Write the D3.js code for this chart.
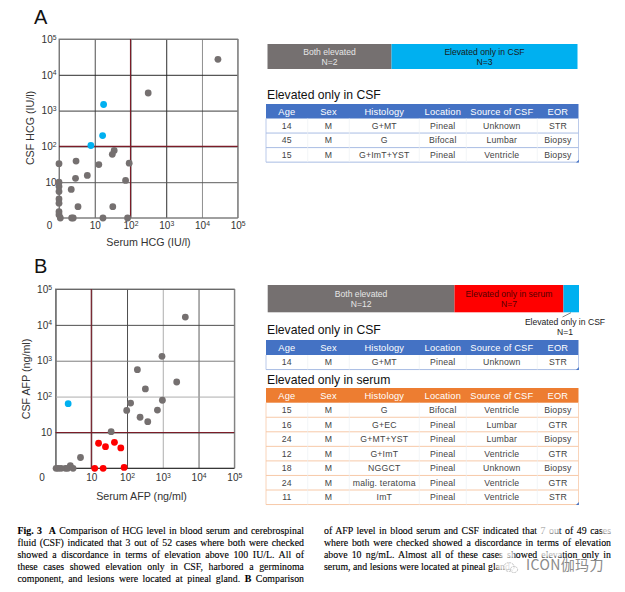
<!DOCTYPE html>
<html><head><meta charset="utf-8">
<script src="https://cdn.jsdelivr.net/npm/d3@7/dist/d3.min.js"></script>
<style>
html,body{margin:0;padding:0;background:#fff;}
#wrap{position:relative;width:625px;height:592px;overflow:hidden;}
svg{position:absolute;left:0;top:0;}
.cap{position:absolute;font-family:"Liberation Serif",serif;font-size:9.85px;line-height:12px;height:12px;color:#000;-webkit-text-stroke:0.12px #000;text-align:justify;text-align-last:justify;}
.cap.last{text-align-last:left;white-space:nowrap;}
</style></head><body><div id="wrap"><svg id="s" width="625" height="592"></svg></div>
<script>
// ---- Panel A: HCG ----
const hcgGreyX=[28000,313,35,31,92,13,1,3,2.9,6.2,73,1,1,1,2.2,1,1,3.4,32,1,1,1.09,2.26,2.5,17,83];
const hcgGreyY=[27000,3100,77,60,34,31,33,39,12.8,15.5,11.2,10,7.6,5.5,6.3,3.4,2.6,2.07,2.07,1.5,1.24,1,1,1,1,1];
const hcgBlueX=[17.7,16.6,7.8];
const hcgBlueY=[1480,200,106];
// ---- Panel B: AFP ----
const afpGreyX=[4270,950,195,2450,326,126,975,98,708,232,380,36,5,2.6,1.04,1.2,1.43,1.9,2.2,3.1];
const afpGreyY=[16500,1330,563,255,163,66,79,41,42,26.5,20,10.5,2,1.19,1,1,1,1,1,1];
const afpBlueX=[2.26];
const afpBlueY=[63.6];
const afpRedX=[16,25,44.5,67,12.5,21.5,83];
const afpRedY=[5,4,5.3,3.7,1,1,1.06];
const tickVals=[1,10,100,1000,10000,100000];
const tickLabels=["0","10","10|2","10|3","10|4","10|5"];
// ---- Stacked bars ----
const barALabels=["Both elevated","Elevated only in CSF"];
const barACounts=[2,3];
const barBLabels=["Both elevated","Elevated only in serum","Elevated only in CSF"];
const barBCounts=[12,7,1];
// ---- Tables ----
const tableHeader=["Age","Sex","Histology","Location","Source of CSF","EOR"];
const rowsA=[["14","M","G+MT","Pineal","Unknown","STR"],["45","M","G","Bifocal","Lumbar","Biopsy"],["15","M","G+ImT+YST","Pineal","Ventricle","Biopsy"]];
const rowsBCsf=[["14","M","G+MT","Pineal","Unknown","STR"]];
const rowsBSerum=[["15","M","G","Bifocal","Ventricle","Biopsy"],["16","M","G+EC","Pineal","Lumbar","GTR"],["24","M","G+MT+YST","Pineal","Lumbar","Biopsy"],["12","M","G+ImT","Pineal","Ventricle","GTR"],["18","M","NGGCT","Pineal","Unknown","Biopsy"],["24","M","malig. teratoma","Pineal","Ventricle","GTR"],["11","M","ImT","Pineal","Ventricle","STR"]];
const capLeft=["<b>Fig. 3</b>&nbsp;&nbsp;<b>A</b> Comparison of HCG level in blood serum and cerebrospinal","fluid (CSF) indicated that 3 out of 52 cases where both were checked","showed a discordance in terms of elevation above 100 IU/L. All of","these cases showed elevation only in CSF, harbored a germinoma","component, and lesions were located at pineal gland. <b>B</b> Comparison"];
const capRight=["of AFP level in blood serum and CSF indicated that 7 out of 49 cases","where both were checked showed a discordance in terms of elevation","above 10 ng/mL. Almost all of these cases showed elevation only in","serum, and lesions were located at pineal gland."];

const SANS='"Liberation Sans",Arial,sans-serif';
const GREY="#757070",BLUE="#00b0f0",RED="#ff0000",DKRED="#7b1c28";
const svg=d3.select("#s");

function panel(c){
  const g=svg.append("g");
  const x=d3.scaleLog().domain([1,1e5]).range([c.x0,c.x0+c.w]);
  const y=d3.scaleLog().domain([1,1e5]).range([c.y0+c.h,c.y0]);
  const fmt=(d)=>tickLabels[tickVals.indexOf(d)];
  const style=(a,cols)=>{
    a.select(".domain").remove();
    a.selectAll(".tick line").attr("stroke",d=>cols[d]||"#3c3c3c").attr("stroke-width",0.95);
    a.selectAll(".tick text").attr("fill","#333").attr("font-family",SANS).attr("font-size",10)
     .each(function(){
       const t=d3.select(this),p=t.text().split("|");
       t.text(p[0]);
       if(p[1]) t.append("tspan").attr("font-size",6.8).attr("dy",-3.2).text(p[1]);
     });
  };
  const ax=g.append("g").attr("transform",`translate(0,${c.y0+c.h})`)
    .call(d3.axisBottom(x).tickValues(tickVals).tickFormat(fmt).tickSize(-c.h).tickPadding(c.xPad));
  style(ax,c.xCols);
  ax.selectAll(".tick").filter(d=>d===1).select("text").attr("dx",c.zeroDx);
  const ay=g.append("g").attr("transform",`translate(${c.x0},0)`)
    .call(d3.axisLeft(y).tickValues(tickVals.slice(1)).tickFormat(fmt).tickSize(-c.w).tickPadding(c.yPad));
  style(ay,c.yCols);
  g.append("rect").attr("x",c.x0).attr("y",c.y0).attr("width",c.w).attr("height",c.h)
    .attr("fill","none").attr("stroke","#777").attr("stroke-width",0.9);
  g.append("line").attr("x1",c.x0).attr("x2",c.x0+c.w).attr("y1",c.y0+c.h).attr("y2",c.y0+c.h).attr("stroke",c.baseCol).attr("stroke-width",0.9);
  g.append("line").attr("x1",x(c.thr)).attr("x2",x(c.thr)).attr("y1",c.y0).attr("y2",c.y0+c.h).attr("stroke",DKRED).attr("stroke-width",1.1);
  g.append("line").attr("x1",c.x0).attr("x2",c.x0+c.w).attr("y1",y(c.thr)).attr("y2",y(c.thr)).attr("stroke",DKRED).attr("stroke-width",1.1);
  c.series.forEach(s=>{
    g.append("g").selectAll("circle").data(s.xs).join("circle")
      .attr("cx",d=>x(d)).attr("cy",(d,i)=>y(s.ys[i])).attr("r",3.4).attr("fill",s.col);
  });
  g.append("text").attr("x",c.xtX).attr("y",c.xtY).attr("text-anchor","middle").attr("font-family",SANS).attr("font-size",10.7).attr("fill","#333").text(c.xt);
  g.append("text").attr("transform",`translate(${c.ytX},${c.ytY}) rotate(-90)`).attr("text-anchor","middle").attr("font-family",SANS).attr("font-size",10.7).attr("fill","#333").text(c.yt);
  g.append("text").attr("x",c.lx).attr("y",c.ly).attr("font-family",SANS).attr("font-size",20).attr("fill","#111").text(c.letter);
}
panel({x0:59,y0:39,w:178.7,h:179,thr:100,xPad:4,yPad:2.5,zeroDx:-10,baseCol:"#777",xCols:{1:"#777",10:"#444",1000:"#222",10000:"#888",100000:"#777"},yCols:{10:"#555",1000:"#333",10000:"#222",100000:"#777"},xt:"Serum HCG (IU/l)",yt:"CSF HCG (IU/l)",xtX:148.5,xtY:246,ytX:33.5,ytY:128,lx:34,ly:24,letter:"A",
  series:[{xs:hcgGreyX,ys:hcgGreyY,col:GREY},{xs:hcgBlueX,ys:hcgBlueY,col:BLUE}]});
panel({x0:55.5,y0:289,w:178.8,h:179.3,thr:10,xPad:6,yPad:3.5,zeroDx:-14,baseCol:"#111",xCols:{1:"#111",100:"#444",1000:"#aaa",10000:"#555",100000:"#777"},yCols:{100:"#aaa",1000:"#777",10000:"#444",100000:"#555"},xt:"Serum AFP (ng/ml)",yt:"CSF AFP (ng/ml)",xtX:141.5,xtY:499.5,ytX:29.5,ytY:379,lx:34,ly:273,letter:"B",
  series:[{xs:afpGreyX,ys:afpGreyY,col:GREY},{xs:afpBlueX,ys:afpBlueY,col:BLUE},{xs:afpRedX,ys:afpRedY,col:RED}]});

function stack(labels,counts,cols,txt,x0,x1,y0,y1,showLabel){
  const total=d3.sum(counts);
  const s=d3.scaleLinear().domain([0,total]).range([x0,x1]);
  let cum=0;
  labels.forEach((l,i)=>{
    const a=s(cum),b=s(cum+counts[i]);cum+=counts[i];
    svg.append("rect").attr("x",a).attr("y",y0).attr("width",b-a).attr("height",y1-y0).attr("fill",cols[i]);
    if(showLabel[i]){
      const t=svg.append("text").attr("text-anchor","middle").attr("font-family",SANS).attr("font-size",8.6).attr("fill",txt[i]);
      t.append("tspan").attr("x",(a+b)/2).attr("y",(y0+y1)/2-2).text(l);
      t.append("tspan").attr("x",(a+b)/2).attr("y",(y0+y1)/2+8.3).text("N="+counts[i]);
    }
  });
}
stack(barALabels,barACounts,[GREY,BLUE],["#e6e6e6","#1a1a1a"],267.5,577.5,44,69,[1,1]);
stack(barBLabels,barBCounts,[GREY,RED,BLUE],["#e6e6e6","#500","#222"],267.7,579,285,312.3,[1,1,0]);
svg.append("line").attr("x1",571).attr("y1",312.7).attr("x2",562.5).attr("y2",317).attr("stroke","#333").attr("stroke-width",0.6);
const cl=svg.append("text").attr("text-anchor","middle").attr("font-family",SANS).attr("font-size",8.6).attr("fill","#222");
cl.append("tspan").attr("x",565).attr("y",325).text(barBLabels[2]);
cl.append("tspan").attr("x",565).attr("y",335).text("N="+barBCounts[2]);

const colEdges=[266,307.7,349.3,419.3,466.3,537.3,578.5];
function table(rows,headCol,lineCol,markCol,top,headH){
  const rowH=14.55;
  const rt=top+headH;
  const bottom=rt+rows.length*rowH;
  const x1=colEdges[6];
  svg.append("rect").attr("x",266).attr("y",top).attr("width",x1-266).attr("height",headH).attr("fill",headCol);
  rows.forEach((r,i)=>{
    svg.append("line").attr("x1",266).attr("x2",x1).attr("y1",rt+(i+1)*rowH).attr("y2",rt+(i+1)*rowH).attr("stroke",lineCol).attr("stroke-width",1);
  });
  for(let k=1;k<6;k++) svg.append("line").attr("x1",colEdges[k]).attr("x2",colEdges[k]).attr("y1",rt).attr("y2",bottom).attr("stroke","#eef0f4").attr("stroke-width",0.7);
  [266,x1].forEach(v=>svg.append("line").attr("x1",v).attr("x2",v).attr("y1",rt).attr("y2",bottom).attr("stroke",lineCol).attr("stroke-width",0.8));
  svg.append("path").attr("d",`M${x1+0.4} ${bottom-2.5}V${bottom+0.4}H${x1-2.5}Z`).attr("fill",markCol);
  tableHeader.forEach((h,k)=>svg.append("text").attr("x",(colEdges[k]+colEdges[k+1])/2).attr("y",top+headH/2+3.3)
    .attr("text-anchor","middle").attr("font-family",SANS).attr("font-size",9.3).attr("letter-spacing",0.15).attr("fill","#fff").text(h));
  rows.forEach((r,i)=>r.forEach((v,k)=>svg.append("text").attr("x",(colEdges[k]+colEdges[k+1])/2).attr("y",rt+i*rowH+rowH/2+3)
    .attr("text-anchor","middle").attr("font-family",SANS).attr("font-size",8.7).attr("letter-spacing",0.2).attr("fill","#444").text(v)));
}
function heading(t,y){svg.append("text").attr("x",267).attr("y",y).attr("font-family",SANS).attr("font-size",12.2).attr("fill","#111").text(t);}
heading("Elevated only in CSF",99);
table(rowsA,"#4472c4","#a9bde4","#4472c4",104,14.5);
heading("Elevated only in CSF",333.5);
table(rowsBCsf,"#4472c4","#a9bde4","#4472c4",340,15);
heading("Elevated only in serum",383.5);
table(rowsBSerum,"#ed7d31","#f7c9a8","#4472c4",388,14.7);

const wrap=d3.select("#wrap");
function caption(lines,x,w){
  lines.forEach((l,i)=>{
    const isLast=i===lines.length-1&&lines.length===4;
    const d=wrap.append("div").attr("class","cap"+(isLast?" last":"")).style("left",x+"px").style("top",(524.5+i*12)+"px").html(l);
    if(!isLast) d.style("width",w+"px");
  });
}
caption(capLeft,17.5,286.5);
caption(capRight,324,287);
// watermark over the caption
const wm=wrap.append("svg").attr("width",625).attr("height",592);
wm.append("defs").append("filter").attr("id","soft").append("feGaussianBlur").attr("stdDeviation",1.2);
[[537,526,22,8],[602,526,12,8],[500,551,14,7],[540,551,22,6],[497,562,22,8]].forEach(r=>
  wm.append("rect").attr("x",r[0]).attr("y",r[1]).attr("width",r[2]).attr("height",r[3]).attr("fill","#fff").attr("opacity",0.75).attr("filter","url(#soft)"));
[[509,567,5.2,4.4],[514,569.5,3.6,3.1]].forEach(e=>
  wm.append("ellipse").attr("cx",e[0]).attr("cy",e[1]).attr("rx",e[2]).attr("ry",e[3]).attr("fill","#fff").attr("fill-opacity",0.5).attr("stroke","#aaa").attr("stroke-width",0.7).attr("stroke-dasharray","2 0.8"));
wm.append("text").attr("x",526).attr("y",570).attr("font-family",'"Noto Sans CJK SC"').attr("font-size",14).attr("letter-spacing",0.4).attr("fill","#8a8a8a").text("ICON伽玛刀");
</script></body></html>
